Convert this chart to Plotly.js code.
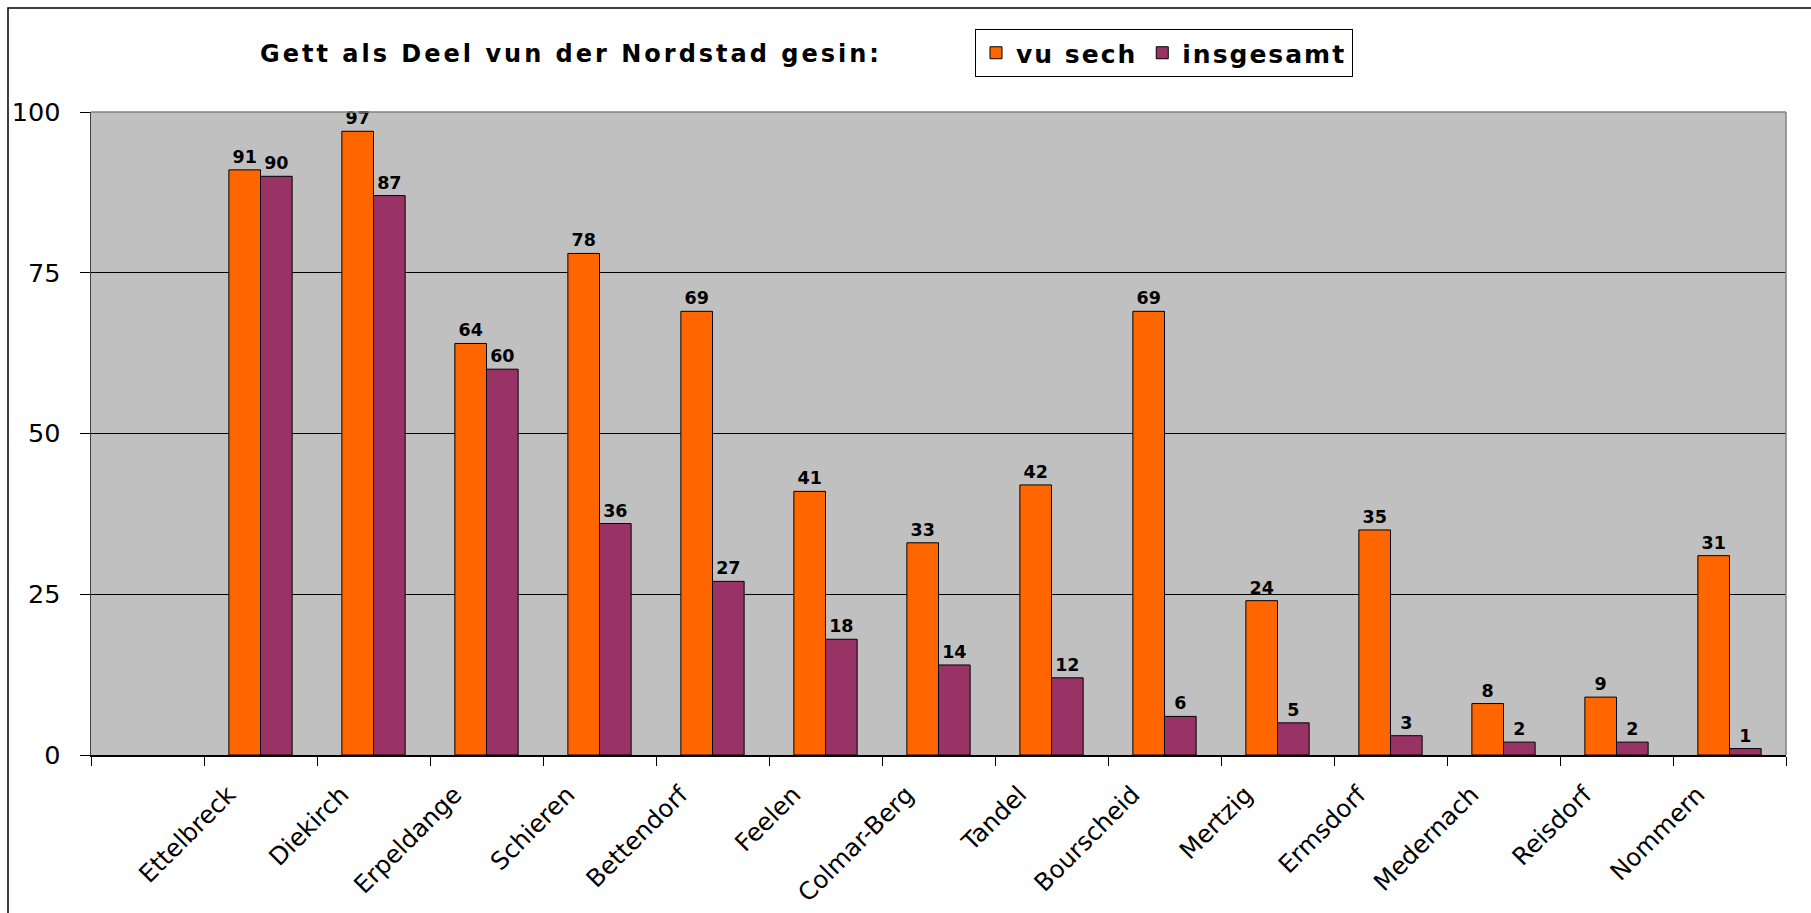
<!DOCTYPE html>
<html>
<head>
<meta charset="utf-8">
<script src="https://cdn.plot.ly/plotly-3.0.1.min.js"></script>
<style>
  html, body { margin: 0; padding: 0; background: #fff; }
  #chart { width: 1811px; height: 913px; }
  .gtitle { letter-spacing: 3px; }
  .legendtext { letter-spacing: 2px; }
</style>
</head>
<body>
<div id="chart"></div>
<script>
// ---- data ----
const categories = ["Ettelbreck", "Diekirch", "Erpeldange", "Schieren", "Bettendorf", "Feelen",
  "Colmar-Berg", "Tandel", "Bourscheid", "Mertzig", "Ermsdorf", "Medernach", "Reisdorf", "Nommern"];
const vuSech    = [91, 97, 64, 78, 69, 41, 33, 42, 69, 24, 35, 8, 9, 31];
const insgesamt = [90, 87, 60, 36, 27, 18, 14, 12,  6,  5,  3, 2, 2,  1];
const seriesNames = ["vu sech", "insgesamt"];
const axisSlots = [" "].concat(categories);   // empty first slot as in the original
const yTickVals = [0, 25, 50, 75, 100];
const titleText = "Gett als Deel vun der Nordstad gesin:";

// ---- chart ----
const W = 1811, H = 913;
const M = { l: 91, r: 25, t: 112, b: 158 };
const pw = W - M.l - M.r, ph = H - M.t - M.b;
const px = v => (v - M.l) / pw;          // pixel -> paper x
const py = v => (H - M.b - v) / ph;      // pixel -> paper y

const labelFont = { family: "DejaVu Sans", size: 17.5, color: "#000", weight: "bold" };

function barTrace(name, values, color) {
  return {
    type: "bar", name: name, x: categories, y: values,
    marker: { color: color, line: { color: "#000", width: 1 } },
    texttemplate: "%{y}", textposition: "outside", textfont: labelFont,
    cliponaxis: false, constraintext: "none",
    hovertemplate: "%{x}: %{y}<extra>" + name + "</extra>"
  };
}

const data = [
  barTrace(seriesNames[0], vuSech, "#FF6600"),
  barTrace(seriesNames[1], insgesamt, "#993366")
];

const layout = {
  width: W, height: H,
  margin: M,
  paper_bgcolor: "#fff",
  plot_bgcolor: "#C0C0C0",
  barmode: "group",
  bargap: 0.44,
  bargroupgap: 0,
  title: {
    text: titleText,
    font: { family: "DejaVu Sans", size: 24, color: "#000", weight: "bold" },
    xref: "container", yref: "container",
    x: 571 / W, xanchor: "center",
    y: 1 - 54 / H, yanchor: "middle"
  },
  showlegend: true,
  legend: {
    orientation: "h",
    x: px(975), xanchor: "left",
    y: py(29), yanchor: "top",
    bgcolor: "#fff", bordercolor: "#000", borderwidth: 1,
    font: { family: "DejaVu Sans", size: 25, color: "#000", weight: "bold" },
    traceorder: "normal"
  },
  xaxis: {
    type: "category",
    categoryorder: "array", categoryarray: axisSlots,
    range: [-0.5, axisSlots.length - 0.5],
    tickson: "boundaries",
    ticks: "outside", ticklen: 9, tickcolor: "#000", tickwidth: 1,
    tickangle: -45,
    ticklabelshift: -32,
    ticklabelstandoff: 14,
    tickfont: { family: "DejaVu Sans", size: 24.5, color: "#000" },
    showline: true, linecolor: "#000", linewidth: 1.5,
    showgrid: false, zeroline: false, fixedrange: true
  },
  yaxis: {
    range: [0, 100],
    tickmode: "array", tickvals: yTickVals,
    ticks: "outside", ticklen: 10, tickcolor: "#000", tickwidth: 1,
    ticklabelstandoff: 14,
    tickfont: { family: "DejaVu Sans", size: 25.5, color: "#000" },
    showline: true, linecolor: "#404040", linewidth: 1.5,
    showgrid: true, gridcolor: "#000", gridwidth: 1,
    zeroline: false, fixedrange: true
  },
  shapes: [
    // plot area border (top and right, grey)
    { type: "line", xref: "paper", yref: "paper", x0: 0, x1: 1, y0: 1, y1: 1,
      line: { color: "#808080", width: 1.5 } },
    { type: "line", xref: "paper", yref: "paper", x0: 1, x1: 1, y0: 0, y1: 1,
      line: { color: "#808080", width: 1.5 } },
    // outer chart frame
    { type: "rect", xref: "paper", yref: "paper",
      x0: px(8), x1: px(W + 10), y0: py(H + 10), y1: py(8),
      line: { color: "#000", width: 1.5 }, fillcolor: "rgba(0,0,0,0)" }
  ]
};

Plotly.newPlot("chart", data, layout, { displayModeBar: false, staticPlot: true });
</script>
</body>
</html>
